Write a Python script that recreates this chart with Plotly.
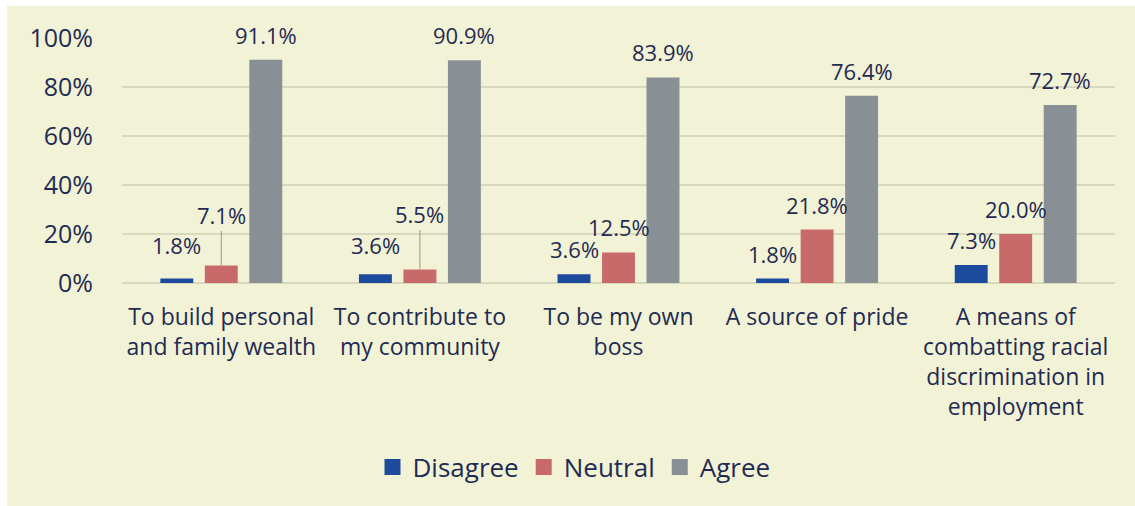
import plotly.graph_objects as go

# Survey results: reasons for business ownership
categories = [
    "To build personal<br>and family wealth",
    "To contribute to<br>my community",
    "To be my own<br>boss",
    "A source of pride",
    "A means of<br>combatting racial<br>discrimination in<br>employment",
]
disagree = [1.8, 3.6, 3.6, 1.8, 7.3]
neutral = [7.1, 5.5, 12.5, 21.8, 20.0]
agree = [91.1, 90.9, 83.9, 76.4, 72.7]
series_names = ["Disagree", "Neutral", "Agree"]
tick_values = [0, 20, 40, 60, 80, 100]
tick_labels = ["0%", "20%", "40%", "60%", "80%", "100%"]

colors = ["#1C4A9C", "#C96A6A", "#889096"]
text_color = "#1F2B52"
bg = "#F2F2D6"
grid = "#D8D8BE"
font_family = "Open Sans, Noto Sans, sans-serif"

W, H = 1135, 506
ML, MR, MT, MB = 122, 20, 38, 223
plot_w = W - ML - MR
plot_h = H - MT - MB

fig = go.Figure()
for name, vals, col in zip(series_names, [disagree, neutral, agree], colors):
    fig.add_trace(go.Bar(
        name=name, x=categories, y=vals, marker=dict(color=col, line=dict(width=0)),
        hoverinfo="skip", showlegend=False,
    ))
    # Legend entry drawn as a larger square swatch
    fig.add_trace(go.Scatter(
        name=name, x=[None], y=[None], mode="markers",
        marker=dict(symbol="square", size=18, color=col),
        showlegend=True, hoverinfo="skip",
    ))

# Data labels: horizontal offset per series (px), vertical lift above bar top (px)
slot_px = plot_w / len(categories) * 0.672 / 3
series_xshift = [-slot_px, 0, slot_px]
default_lift = 25
lift_override = {(0, 0): 34, (1, 0): 29}
leader_lift = {(0, 1): 51, (1, 1): 56}

for s, vals in enumerate([disagree, neutral, agree]):
    for c, v in enumerate(vals):
        label = f"{v:.1f}%"
        if (c, s) in leader_lift:
            fig.add_annotation(
                x=categories[c], y=v, text=label, showarrow=True,
                arrowhead=0, arrowwidth=1, arrowcolor="#9A9A8A",
                ax=0, ay=-leader_lift[(c, s)], standoff=0,
                font=dict(size=22, color=text_color, family=font_family),
            )
        else:
            fig.add_annotation(
                x=categories[c], y=v, text=label, showarrow=False,
                xshift=series_xshift[s], yshift=lift_override.get((c, s), default_lift),
                yanchor="middle",
                font=dict(size=22, color=text_color, family=font_family),
            )

# Cream panel with a thin white margin at the top and left
fig.add_shape(
    type="rect", xref="paper", yref="paper", layer="below",
    x0=(7 - ML) / plot_w, x1=(W - ML) / plot_w,
    y0=-(MB) / plot_h, y1=(H - MB - 6) / plot_h,
    fillcolor=bg, line=dict(width=0),
)

fig.update_layout(
    width=W, height=H,
    margin=dict(l=ML, r=MR, t=MT, b=MB, pad=0),
    paper_bgcolor="white",
    plot_bgcolor="rgba(0,0,0,0)",
    barmode="group", bargap=0.328, bargroupgap=0.26,
    font=dict(family=font_family, color=text_color),
    showlegend=True,
    legend=dict(
        orientation="h", x=(574 - ML) / plot_w, xanchor="center",
        y=-(467 - (H - MB)) / plot_h, yanchor="middle",
        font=dict(size=26, color=text_color, family=font_family),
        itemwidth=30, itemsizing="trace", traceorder="normal",
        bgcolor="rgba(0,0,0,0)",
    ),
    xaxis=dict(
        tickfont=dict(size=23, color=text_color, family=font_family),
        showgrid=False, showline=False, ticks="", ticklabelstandoff=18,
    ),
    yaxis=dict(
        range=[0, 100], tickvals=tick_values, ticktext=tick_labels,
        tickfont=dict(size=25, color=text_color, family=font_family),
        showgrid=True, gridcolor=grid, gridwidth=1.5,
        zeroline=True, zerolinecolor=grid, zerolinewidth=1.5,
        showline=False, ticks="", ticklabelstandoff=28,
    ),
)

fig.write_html("out.html")
